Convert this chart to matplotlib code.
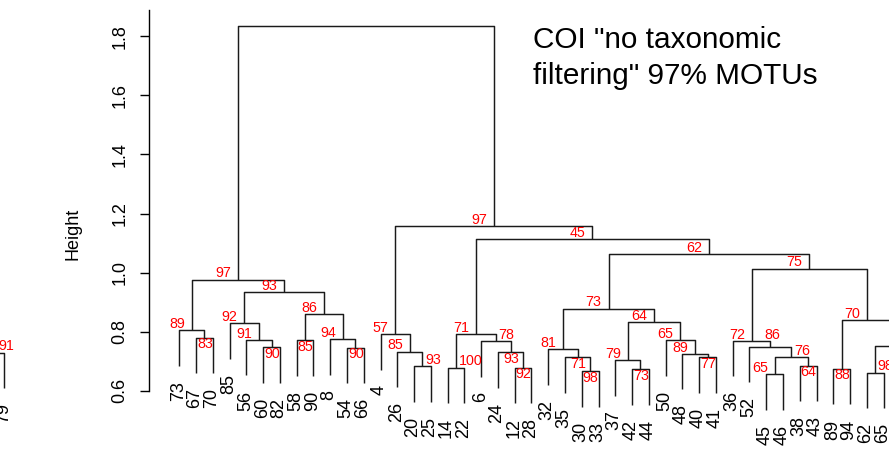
import matplotlib.pyplot as plt

plt.rcParams['font.family'] = ['Liberation Sans', 'DejaVu Sans']

# leaves in the order they are drawn (x1, x2 fall past the right edge of the picture)
leaf_labels = ["73", "67", "70", "85", "56", "60", "82", "58", "90", "8", "54", "66",
               "4", "26", "20", "25", "14", "22", "6", "24", "12", "28", "32", "35",
               "30", "33", "37", "42", "44", "50", "48", "40", "41", "36", "52", "45",
               "46", "38", "43", "89", "94", "62", "65", "x1", "x2"]

# merges m1, m2, ... : children (leaf label or earlier merge), height, AU value
merge_left = ["67", "73", "60", "56", "85", "58", "54", "8", "m6", "m5", "m2",
              "20", "26", "4", "14", "12", "24", "6", "m15", "30", "35", "32",
              "42", "37", "40", "48", "50", "m24", "m22", "45", "38", "m30", "52",
              "36", "89", "62", "x1", "m36", "m35", "m34", "m29", "m19", "m14", "m11"]
merge_right = ["70", "m1", "82", "m3", "m4", "90", "66", "m7", "m8", "m9", "m10",
               "25", "m12", "m13", "22", "28", "m16", "m17", "m18", "33", "m20", "m21",
               "44", "m23", "41", "m25", "m26", "m27", "m28", "46", "43", "m31", "m32",
               "m33", "94", "65", "x2", "m37", "m38", "m39", "m40", "m41", "m42", "m43"]
merge_height = [0.780, 0.805, 0.747, 0.772, 0.829, 0.771, 0.746, 0.774, 0.859, 0.935, 0.976,
                0.683, 0.732, 0.792, 0.678, 0.678, 0.730, 0.767, 0.792, 0.666, 0.714, 0.740,
                0.673, 0.704, 0.714, 0.725, 0.771, 0.832, 0.878, 0.656, 0.685, 0.714, 0.749,
                0.769, 0.674, 0.661, 0.700, 0.753, 0.840, 1.013, 1.063, 1.113, 1.157, 1.834]
merge_au = [83, 89, 90, 91, 92, 85, 90, 94, 86, 93, 97,
            93, 85, 57, 100, 92, 93, 78, 71, 98, 71, 81,
            73, 79, 77, 89, 65, 64, 73, 65, 64, 76, 86,
            72, 88, 98, None, 88, 70, 75, 62, 45, 97, None]

# where each AU label sits around its node (R text() pos codes: 1 below, 2 left, 3 above, 4 right)
au_pos = [1, 2, 1, 2, 2, 1, 1, 2, 2, 2, 2,
          4, 2, 2, 4, 1, 1, 4, 2, 1, 1, 2,
          1, 2, 1, 2, 2, 2, 2, 2, 1, 4, 3,
          2, 1, 4, 2, 2, 2, 2, 2, 2, 2, 2]

# piece of a neighbouring tree at the left edge
frag_leaf = "79"
frag_height = 0.728
frag_au = 91

title_lines = ['COI "no taxonomic', 'filtering" 97% MOTUs']
yticks = [0.6, 0.8, 1.0, 1.2, 1.4, 1.6, 1.8]

hang = 0.12
W, H = 889, 454
PX = 0.72  # points per pixel at dpi 100
line_kw = dict(color='#1a1a1a', lw=1.05, solid_capstyle='butt')
red = '#ff0000'
lab_size = 13

fig = plt.figure(figsize=(W / 100, H / 100), dpi=100)
ax = fig.add_axes([149.3 / W, 0, 1 - 149.3 / W, 1])
x_step = 16.77
ax.set_xlim(-(179.3 - 149.3) / x_step, (W - 179.3) / x_step)
y0 = 1.0 - (H - 272.6) / 295.5
y1 = 1.0 + 272.6 / 295.5
ax.set_ylim(y0, y1)

leaf_x = {lab: i for i, lab in enumerate(leaf_labels)}
node_x, node_h = {}, {}

def bottom_of(child, parent_h):
    if child in leaf_x:
        return leaf_x[child], parent_h - hang
    return node_x[child], node_h[child]

for k in range(len(merge_left)):
    name = "m%d" % (k + 1)
    h = merge_height[k]
    xl, bl = bottom_of(merge_left[k], h)
    xr, br = bottom_of(merge_right[k], h)
    ax.plot([xl, xl, xr, xr], [bl, h, h, br], **line_kw)
    xc = (xl + xr) / 2
    node_x[name], node_h[name] = xc, h
    for child, xx, bb in ((merge_left[k], xl, bl), (merge_right[k], xr, br)):
        if child in leaf_x:
            ax.annotate(child, (xx, bb), xytext=(-1 * PX, -15 * PX), textcoords='offset points',
                        rotation=90, ha='center', va='top', fontsize=lab_size)
    if merge_au[k] is not None:
        p = au_pos[k]
        if p == 2:
            off, ha = (-6.8 * PX, 6.3 * PX), 'right'
        elif p == 4:
            off, ha = (2.5 * PX, 6.3 * PX), 'left'
        elif p == 1:
            off, ha = (0.5 * PX, -6.5 * PX), 'center'
        else:
            off, ha = (2 * PX, 11.5 * PX), 'center'
        ax.annotate(str(merge_au[k]), (xc, h), xytext=off, textcoords='offset points',
                    ha=ha, va='center', color=red, fontsize=10.3)

for s in ['top', 'right', 'bottom']:
    ax.spines[s].set_visible(False)
ax.spines['left'].set_bounds(0.6, 1.889)
ax.spines['left'].set_linewidth(1.0)
ax.set_xticks([])
ax.set_yticks(yticks)
ax.set_yticklabels(["%.1f" % t for t in yticks], rotation=90, va='center', fontsize=lab_size)
ax.tick_params(axis='y', length=9 * PX, width=1.0, pad=8.5)
ax.patch.set_alpha(0)

fig.text(73 / W, 1 - 234 / H, 'Height', rotation=90, ha='center', va='center', fontsize=lab_size)
fig.text(533.3 / W, 1 - 47.7 / H, title_lines[0], ha='left', va='baseline', fontsize=21.4)
fig.text(533.3 / W, 1 - 84 / H, title_lines[1], ha='left', va='baseline', fontsize=21.4)

# left-edge fragment
ax2 = fig.add_axes([0, 0, 30 / W, 1])
ax2.set_xlim(0, 30)
ax2.set_ylim(y0, y1)
ax2.axis('off')
fx = 4.3
ax2.plot([-5, fx, fx], [frag_height, frag_height, frag_height - hang], **line_kw)
ax2.annotate(frag_leaf, (fx, frag_height - hang), xytext=(-1 * PX, -15 * PX), textcoords='offset points',
             rotation=90, ha='center', va='top', fontsize=lab_size)
ax2.annotate(str(frag_au), (fx, frag_height), xytext=(10.3 * PX, 7 * PX), textcoords='offset points',
             ha='right', va='center', color=red, fontsize=10.3)

fig.savefig('out.png', dpi=100)
